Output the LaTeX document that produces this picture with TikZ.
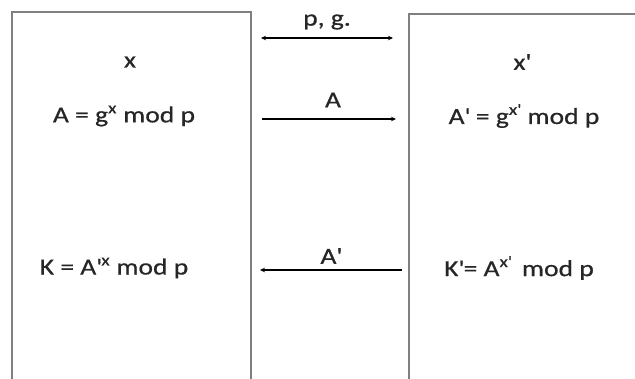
\documentclass[tikz,border=0pt]{standalone}
\usepackage{fontspec}
\setmainfont[FakeStretch=1.2,FakeBold=0.6]{Carlito}
\usetikzlibrary{arrows.meta}
\tikzset{
  boxline/.style={draw=black!50, line width=1.4pt},
  msg/.style={draw=black, line width=1.2pt, -{Stealth[length=5pt,width=4.5pt]}},
  lbl/.style={inner sep=0pt, font=\fontsize{23}{25}\selectfont, text=black!85},
}
\newcommand{\sps}[1]{\textsuperscript{#1}}
\newcommand{\pq}{\textquotesingle}
\begin{document}
\begin{tikzpicture}[x=1pt,y=-1pt]
\useasboundingbox (0,0) rectangle (635,378);
% boxes (open at the bottom, right box cut at the right edge)
\draw[boxline] (12,379) -- (12,12) -- (251,12) -- (251,379);
\draw[boxline] (409,379) -- (409,14) -- (636,14);
% texts
\node[lbl] (x) at (130,62) {x};
\node[lbl] (xp) at (522,62) {x\pq};
\node[lbl] (Aeq) at (124,116) {A = g\sps{x} mod p};
\node[lbl] (Apeq) at (524,116) {A\pq{} = g\sps{x\pq} mod p};
\node[lbl] (Keq) at (114,268) {K = A\pq\sps{x} mod p};
\node[lbl] (Kpeq) at (519,268) {K\pq= A\sps{x\pq}\, mod p};
% message arrows
\coordinate (pgL) at (261,38);
\coordinate (pgR) at (393,38);
\coordinate (aL) at (262,119);
\coordinate (aR) at (396,119);
\coordinate (bL) at (260,270);
\coordinate (bR) at (402,270);
\draw[msg, {Stealth[length=5pt,width=4.5pt]}-{Stealth[length=5pt,width=4.5pt]}] (pgL) -- (pgR);
\draw[msg] (aL) -- (aR);
\draw[msg] (bR) -- (bL);
\node[lbl] (pg) at (327,22) {p, g.};
\node[lbl] (Alab) at (333,100) {A};
\node[lbl] (Aplab) at (331,256) {A\pq};
\end{tikzpicture}
\end{document}
